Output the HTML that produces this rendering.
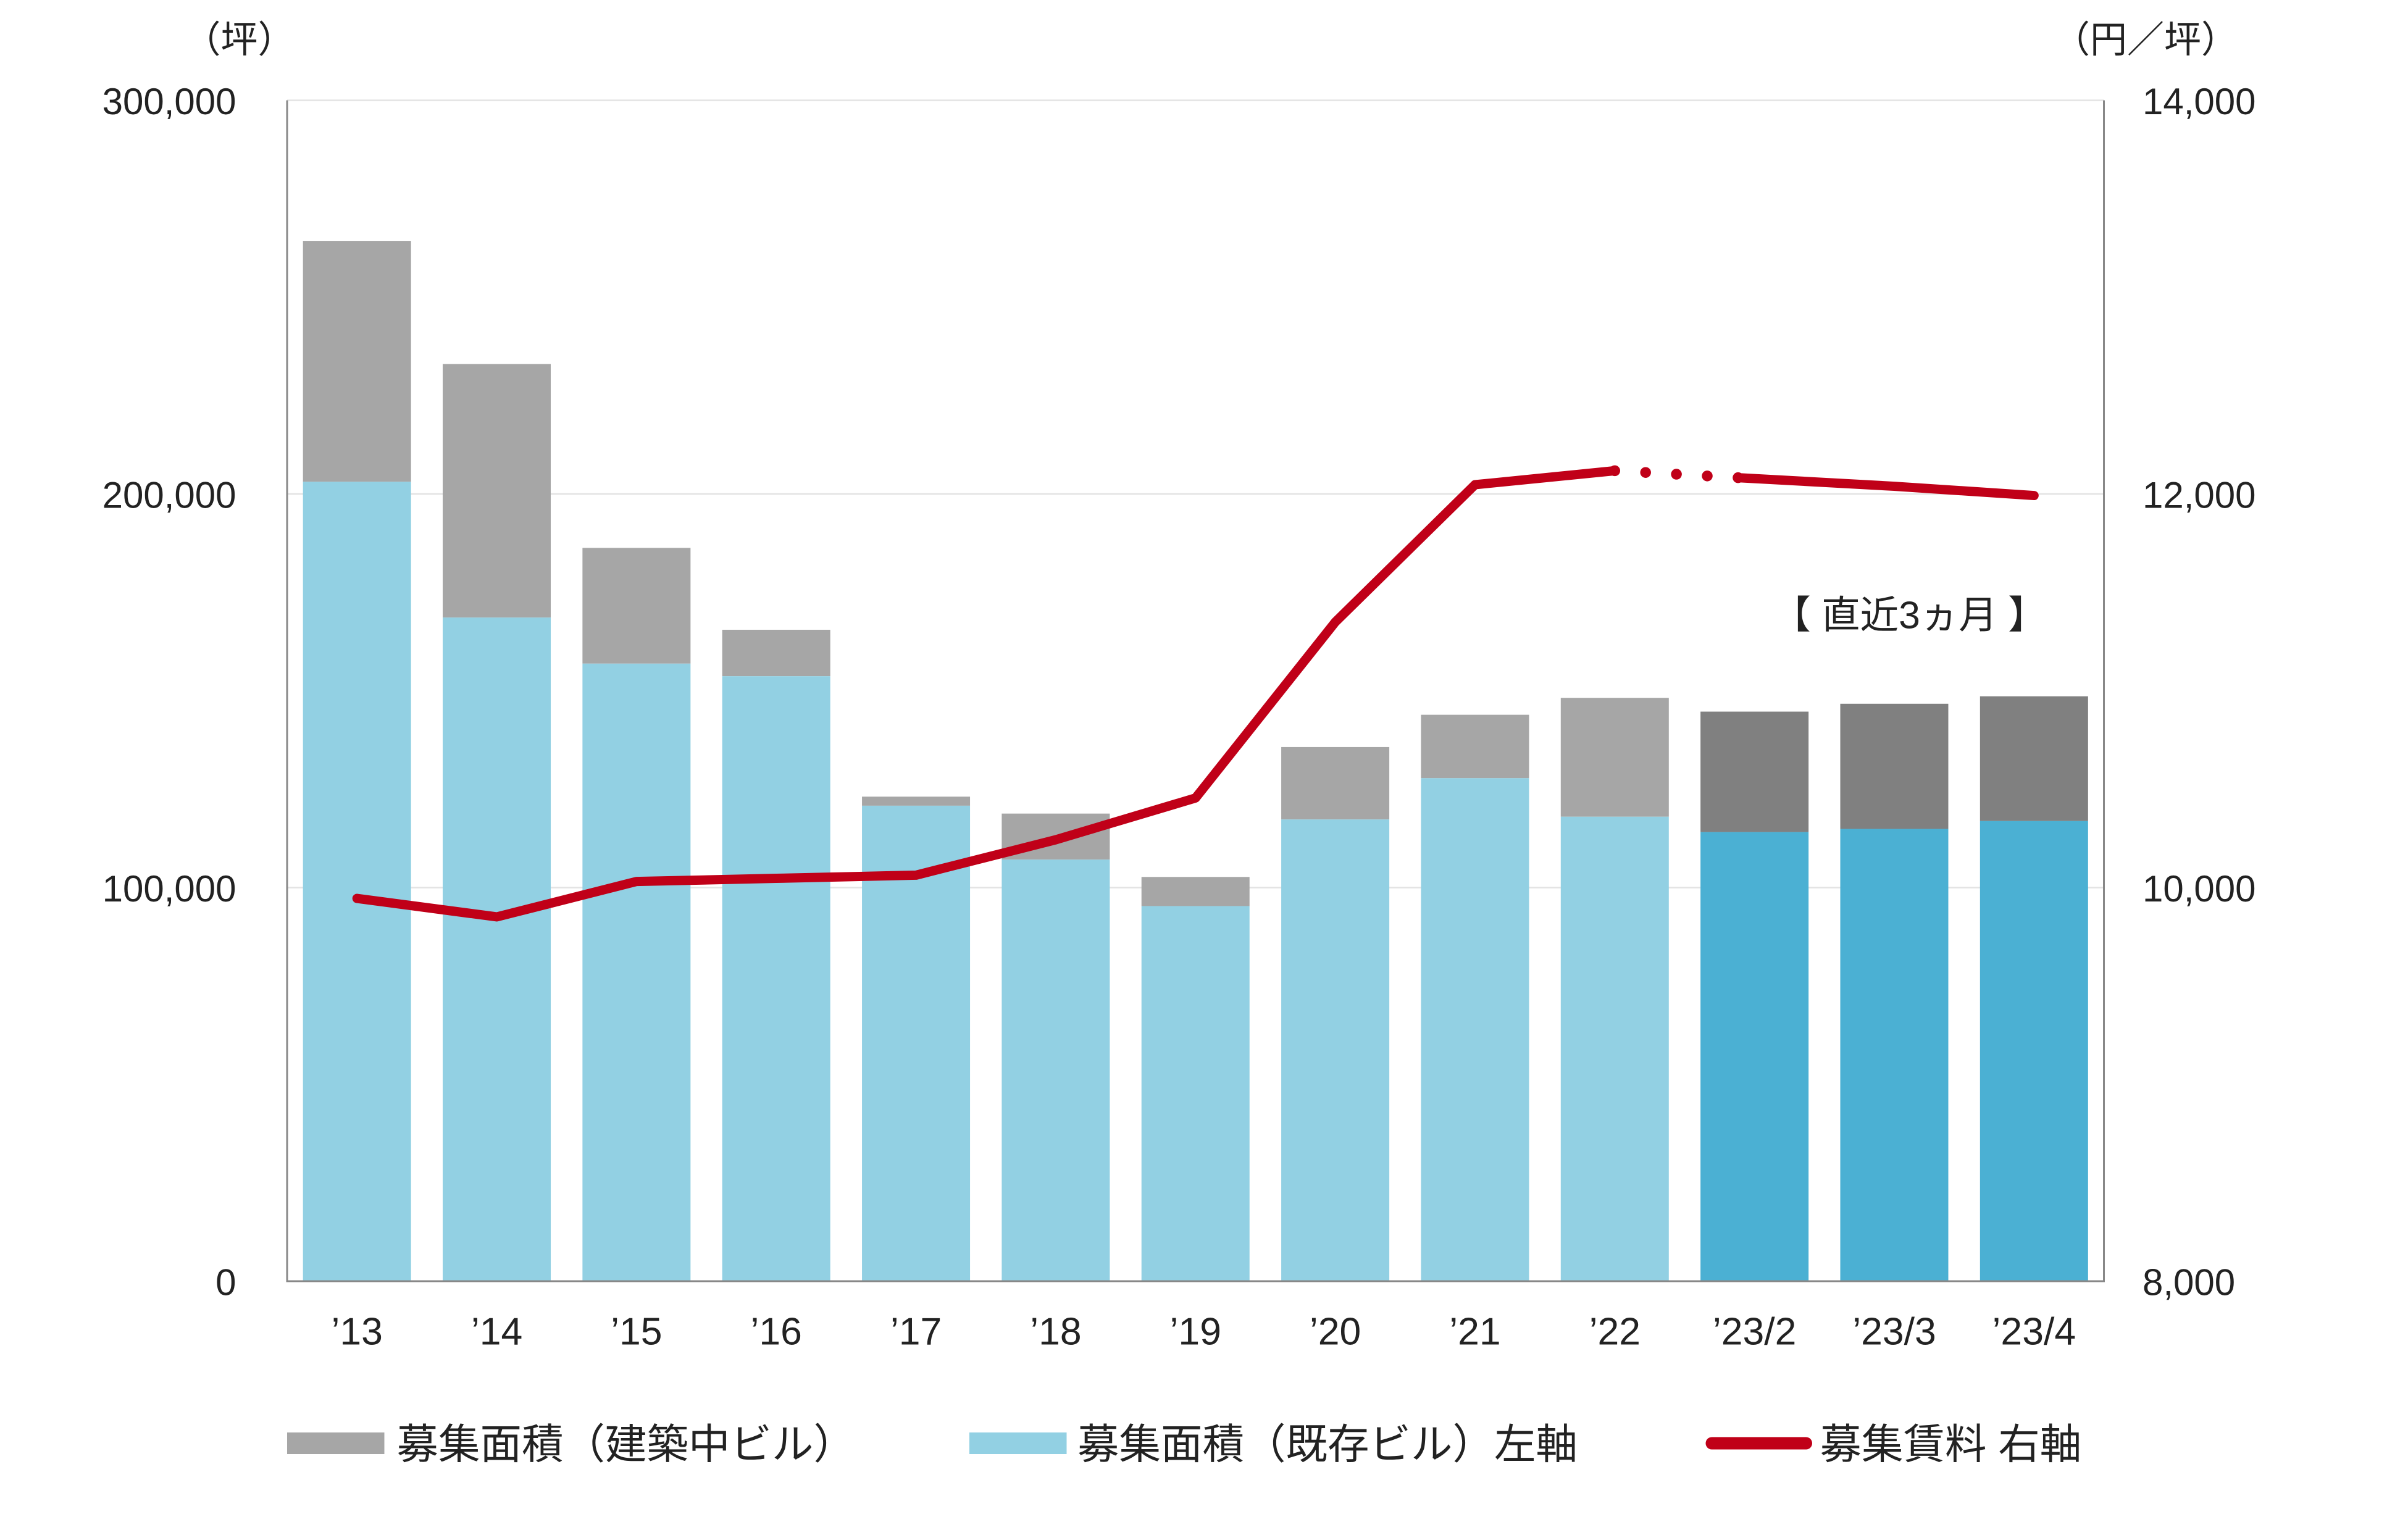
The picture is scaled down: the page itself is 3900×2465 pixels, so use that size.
<!DOCTYPE html>
<html><head><meta charset="utf-8"><style>
html,body{margin:0;padding:0;background:#fff;}
svg{display:block;}
text{font-family:"Liberation Sans Narrow","Liberation Sans","Noto Sans CJK JP",sans-serif;fill:#222;}
.cjk{font-family:"Liberation Sans","Noto Sans CJK JP",sans-serif;}
</style></head><body>
<svg id="chart" width="3900" height="2465" viewBox="0 0 1560 986" xmlns="http://www.w3.org/2000/svg">
<g id="grid"></g>
<g id="bars"></g>
<g id="axes"></g>
<g id="line"></g>
<g id="labels"></g>
<text class="cjk" x="155" y="34" font-size="24" text-anchor="middle">（坪）</text>
<text class="cjk" x="1390" y="34" font-size="24" text-anchor="middle">（円／坪）</text>
<text class="cjk" x="1237" y="407" font-size="25" text-anchor="middle">【 直近3ヵ月 】</text>
<g>
<rect x="186" y="928" width="63" height="14" fill="#a6a6a6"/>
<text class="cjk" x="257" y="945" font-size="27">募集面積（建築中ビル）</text>
<rect x="628" y="928" width="63" height="14" fill="#92d0e3"/>
<text class="cjk" x="698" y="945" font-size="27">募集面積（既存ビル）左軸</text>
<line x1="1109" y1="935" x2="1170" y2="935" stroke="#c00018" stroke-width="8" stroke-linecap="round"/>
<text class="cjk" x="1179" y="945" font-size="27">募集賃料 右軸</text>
</g>
</svg>
<script>
const categories=["’13","’14","’15","’16","’17","’18","’19","’20","’21","’22","’23/2","’23/3","’23/4"];
const totalArea=[264300,233000,186300,165500,123100,118800,102700,135700,143900,148200,144700,146700,148600];
const existingArea=[203100,168600,156900,153700,120800,107100,95300,117300,127800,118000,114100,114900,116900];
const rent=[9945,9851,10031,10047,10063,10243,10455,11349,12047,12118,12078,12039,11992];
const leftTicks=[0,100000,200000,300000];
const rightTicks=[8000,10000,12000,14000];
const recentStart=10;

const NS="http://www.w3.org/2000/svg";
const X0=186,X1=1363,Y0=830,Y1=65;
const step=(X1-X0)/categories.length;
const xC=i=>X0+step*(i+0.5);
const yL=v=>Y0-(v/300000)*(Y0-Y1);
const yR=v=>Y0-((v-8000)/6000)*(Y0-Y1);
function mk(tag,attrs,parent){const e=document.createElementNS(NS,tag);for(const k in attrs)e.setAttribute(k,attrs[k]);parent.appendChild(e);return e;}
const grid=document.getElementById('grid'),bars=document.getElementById('bars'),axes=document.getElementById('axes'),lineG=document.getElementById('line'),labels=document.getElementById('labels');

leftTicks.forEach((t,i)=>{
 if(t>0){const g=mk('line',{x1:X0,x2:X1,y1:yL(t),y2:yL(t),stroke:'#e3e3e3','stroke-width':1},grid);
 
 }
 const tx=mk('text',{x:153,y:yL(t)+9,'font-size':24,'text-anchor':'end'},labels);
 tx.textContent=t.toLocaleString('en-US');
 
 
});
rightTicks.forEach(t=>{
 const tx=mk('text',{x:1388,y:yR(t)+9,'font-size':24},labels);
 tx.textContent=t.toLocaleString('en-US');
 
 
});
const bw=70;
categories.forEach((c,i)=>{
 const recent=i>=recentStart;
 const top=mk('rect',{x:xC(i)-bw/2,y:yL(totalArea[i]),width:bw,height:yL(existingArea[i])-yL(totalArea[i]),fill:recent?'#808080':'#a6a6a6'},bars);
 
 
 const b=mk('rect',{x:xC(i)-bw/2,y:yL(existingArea[i]),width:bw,height:Y0-yL(existingArea[i]),fill:recent?'#4bb0d3':'#92d0e3'},bars);
 
 
 const tx=mk('text',{x:xC(i),y:871,'font-size':25,'text-anchor':'middle'},labels);
 tx.textContent=c;
 
 
});
const ax1=mk('path',{d:`M${X0},${Y1}V${Y0}H${X1}V${Y1}`,fill:'none',stroke:'#888','stroke-width':1.2},axes);



const pts=rent.map((v,i)=>[xC(i),yR(v)]);
const solid1=pts.slice(0,recentStart).map(p=>p.join(',')).join(' ');
const l1=mk('polyline',{points:solid1,fill:'none',stroke:'#c00018','stroke-width':6,'stroke-linejoin':'round','stroke-linecap':'round'},lineG);


const a=pts[recentStart-1],b=pts[recentStart];
const bx=b[0]-10, by=a[1]+(b[1]-a[1])*((bx-a[0])/(b[0]-a[0]));
const d=mk('line',{x1:a[0],y1:a[1],x2:bx,y2:by,stroke:'#c00018','stroke-width':7,'stroke-linecap':'round','stroke-dasharray':'0 20'},lineG);


const solid2=[[bx,by]].concat(pts.slice(recentStart+1)).map(p=>p.join(',')).join(' ');
const l2=mk('polyline',{points:solid2,fill:'none',stroke:'#c00018','stroke-width':6,'stroke-linejoin':'round','stroke-linecap':'round'},lineG);


</script>
</body></html>
